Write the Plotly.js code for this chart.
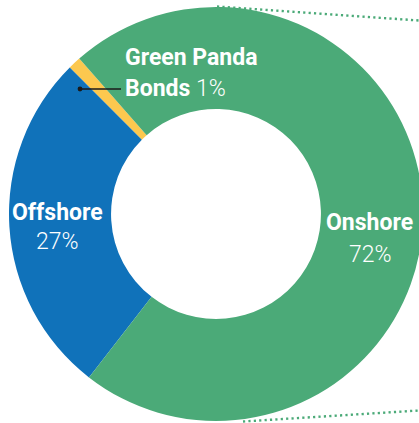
<!DOCTYPE html>
<html>
<head>
<meta charset="utf-8">
<script src="https://cdn.plot.ly/plotly-3.0.1.min.js"></script>
<style>
html, body { margin: 0; padding: 0; overflow: hidden; background: #fff; }
#chart { width: 432px; height: 423px; }
</style>
</head>
<body>
<div id="chart"></div>
<script>
// ---- data ----
const labels = ['Green Panda Bonds', 'Offshore', 'Onshore'];
const values = [1, 27, 72];
const labelLines = [['Green Panda', 'Bonds'], ['Offshore'], ['Onshore']];

// ---- style ----
const colors = ['#FCC84F', '#1072BA', '#4BAA78'];
const W = 432, H = 423;
const FONT = 'Roboto, sans-serif';
const px = x => x / W;
const py = y => 1 - y / H;

const trace = {
  type: 'pie',
  labels: labels,
  values: values,
  sort: false,
  direction: 'counterclockwise',
  rotation: -44.95,
  hole: 0.507,
  marker: { colors: colors, line: { width: 0 } },
  textinfo: 'none',
  hoverinfo: 'none',
  showlegend: false,
  domain: { x: [9 / W, 423 / W], y: [2 / H, 416 / H] }
};

const pct = v => v + '%';
const txt = (text, x, y, anchor, weight) => ({
  text: text, x: px(x), y: py(y), xref: 'paper', yref: 'paper',
  xanchor: anchor, yanchor: 'middle', showarrow: false,
  font: { family: FONT, size: 23, color: '#ffffff', weight: weight || 'normal' }
});

const annotations = [
  txt('<b>' + labelLines[0][0] + '</b>', 123, 57.5, 'left'),
  txt('<b>' + labelLines[0][1] + '</b> ' + pct(values[0]), 123, 89, 'left', 300),
  txt('<b>' + labelLines[1][0] + '</b>', 57.5, 212.3, 'center'),
  txt(pct(values[1]), 57.5, 241.7, 'center', 300),
  txt('<b>' + labelLines[2][0] + '</b>', 369.5, 222.5, 'center'),
  txt(pct(values[2]), 370.5, 254.7, 'center', 300)
];

const dotted = { color: '#4BAA78', width: 2.4, dash: '2.2px,3.2px' };
const shapes = [
  { type: 'line', xref: 'paper', yref: 'paper', x0: px(217), y0: py(6.5), x1: px(419), y1: py(20.5), line: dotted },
  { type: 'line', xref: 'paper', yref: 'paper', x0: px(243), y0: py(421.5), x1: px(419), y1: py(410.5), line: dotted },
  { type: 'line', xref: 'paper', yref: 'paper', x0: px(80), y0: py(89), x1: px(121), y1: py(89), line: { color: '#1a1a1a', width: 1.5 } },
  { type: 'circle', xref: 'paper', yref: 'paper', x0: px(77.6), y0: py(86.6), x1: px(82.4), y1: py(91.4),
    fillcolor: '#1a1a1a', line: { width: 0 } }
];

const layout = {
  width: W, height: H,
  margin: { l: 0, r: 0, t: 0, b: 0, pad: 0 },
  paper_bgcolor: '#ffffff',
  plot_bgcolor: '#ffffff',
  annotations: annotations,
  shapes: shapes
};

Plotly.newPlot('chart', [trace], layout, { displayModeBar: false, staticPlot: true });
</script>
</body>
</html>
